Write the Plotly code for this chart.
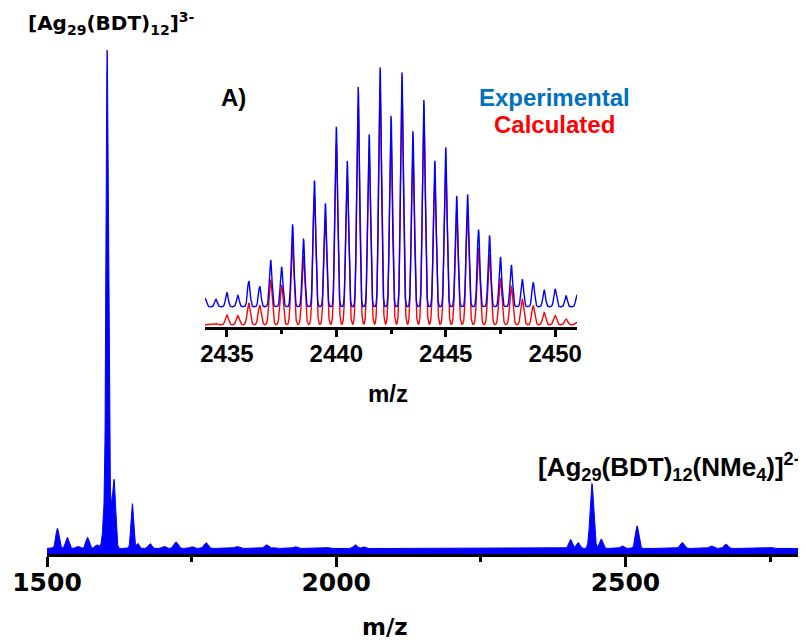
import numpy as np
import plotly.graph_objects as go

# ---------------- data ----------------
# main spectrum: peak centres (m/z), amplitudes above noise floor (% of base peak), widths (m/z)
main_peak_mz = [1518, 1535, 1553, 1570, 1586, 1604, 1604.5, 1616, 1647.5, 1657, 1678, 1702,
                1723, 1750, 1775, 1828, 1879, 1892, 1929, 1984, 2033, 2047, 2183, 2405,
                2418, 2442, 2458, 2494, 2520, 2598, 2648, 2674, 2751]
main_peak_amp = [4.0, 2.2, 0.4, 2.2, 0.7, 79.0, 20.0, 12.9, 8.9, 1.0, 1.0, 0.4,
                 1.3, 0.35, 1.15, 0.4, 0.75, 0.2, 0.35, 0.2, 0.75, 0.35, 0.1, 1.8,
                 1.2, 12.9, 1.9, 0.5, 4.5, 1.2, 0.5, 0.85, 0.2]
main_peak_sigma = [2.8, 3.0, 3.0, 3.0, 3.0, 1.8, 4.5, 2.6, 2.3, 2.5, 3.0, 3.0,
                   3.5, 3.0, 3.5, 3.5, 3.5, 3.0, 3.0, 3.0, 3.5, 3.0, 3.0, 3.0,
                   3.0, 3.2, 3.0, 3.0, 3.0, 3.5, 3.5, 3.5, 3.0]
noise_floor = 1.1
main_range = [1500, 2800]
main_tickvals = [1500, 2000, 2500]

# inset: isotope pattern of [Ag29(BDT)12(NMe4)]2-
inset_mz = [2434.0, 2434.5, 2435.0, 2435.5, 2436.0, 2436.5, 2437.0, 2437.5, 2438.0, 2438.5,
            2439.0, 2439.5, 2440.0, 2440.5, 2441.0, 2441.5, 2442.0, 2442.5, 2443.0, 2443.5,
            2444.0, 2444.5, 2445.0, 2445.5, 2446.0, 2446.5, 2447.0, 2447.5, 2448.0, 2448.5,
            2449.0, 2449.5, 2450.0, 2450.5, 2451.0]
exp_int = [3.5, 3.1, 6.0, 4.7, 10.7, 8.5, 19.5, 16.7, 34.4, 28.5,
           52.7, 43.2, 75.2, 60.9, 91.8, 72.0, 100.0, 79.8, 97.9, 73.3,
           86.4, 61.0, 66.6, 46.3, 46.9, 32.2, 29.8, 20.8, 17.4, 11.4,
           10.2, 7.0, 7.4, 4.5, 5.0]
calc_int = [0.0, 0.5, 4.1, 3.8, 9.1, 8.2, 18.8, 16.6, 34.1, 28.8,
            53.6, 45.0, 76.0, 62.0, 92.0, 73.0, 100.0, 80.0, 98.0, 74.0,
            86.0, 60.6, 66.0, 48.0, 46.7, 32.2, 29.3, 19.5, 16.3, 10.7,
            7.9, 5.1, 3.9, 2.4, 1.0]
exp_offset = 8.36
calc_offset = 0.8
inset_range = [2434, 2451]
inset_tickvals = [2435, 2440, 2445, 2450]

# ---------------- profiles ----------------
mz = np.arange(main_range[0], main_range[1] + 0.001, 0.2)
spec = np.full_like(mz, noise_floor)
for c, a, s in zip(main_peak_mz, main_peak_amp, main_peak_sigma):
    spec += a * np.exp(-0.5 * ((mz - c) / s) ** 2)

imz = np.arange(inset_range[0], inset_range[1] + 0.0001, 0.005)
exp_prof = np.full_like(imz, exp_offset)
calc_prof = np.full_like(imz, calc_offset)
for c, a in zip(inset_mz, exp_int):
    exp_prof += a * np.exp(-0.5 * ((imz - c) / 0.06) ** 2)
for c, a in zip(inset_mz, calc_int):
    calc_prof += a * np.exp(-0.5 * ((imz - c) / 0.07) ** 2)

# ---------------- figure ----------------
# the page body has an 8px margin, so the figure is 8px smaller than the window
OFF = 8
W, H = 806 - OFF, 642 - OFF
L, R, T, B = 47 - OFF, 7, 20 - OFF, 88
PW, PH = W - L - R, H - T - B


def px(x):  # reference pixel -> paper
    return (x - OFF - L) / PW


def py(y):
    return (H - B - (y - OFF)) / PH


fig = go.Figure()
fig.add_trace(go.Scatter(x=mz, y=spec, mode="lines", fill="tozeroy",
                         line=dict(color="#0000FF", width=1), fillcolor="#0000FF",
                         hoverinfo="skip", showlegend=False))
fig.add_trace(go.Scatter(x=imz, y=calc_prof, mode="lines", xaxis="x2", yaxis="y2",
                         line=dict(color="#FF0000", width=1.4), showlegend=False))
fig.add_trace(go.Scatter(x=imz, y=exp_prof, mode="lines", xaxis="x2", yaxis="y2",
                         line=dict(color="#0000FF", width=1.4), showlegend=False))

inset_top = 60
inset_bottom = 326.7
inset_ymax = (inset_bottom - inset_top) / 2.393

fig.update_layout(
    width=W, height=H, margin=dict(l=L, r=R, t=T, b=B, autoexpand=False),
    paper_bgcolor="white", plot_bgcolor="white",
    xaxis=dict(range=main_range, tickvals=main_tickvals, ticks="outside", ticklen=10,
               tickwidth=3, tickcolor="black", showline=True, linewidth=3, linecolor="black",
               showgrid=False, zeroline=False, automargin=False, ticklabelstandoff=-6,
               tickfont=dict(family="DejaVu Sans", size=25, color="black", weight="bold"),
               minor=dict(tickvals=[1750, 2250, 2750], ticks="outside", ticklen=5,
                          tickwidth=3, tickcolor="black")),
    yaxis=dict(range=[0, 100 * PH / 504], visible=False, automargin=False),
    xaxis2=dict(domain=[px(205), px(577)], anchor="y2", range=inset_range,
                tickvals=inset_tickvals, ticks="outside", ticklen=8, tickwidth=2.5,
                tickcolor="black", showline=True, linewidth=2.5, linecolor="black",
                showgrid=False, zeroline=False, automargin=False, ticklabelstandoff=-4,
                tickfont=dict(family="Liberation Sans", size=24, color="black", weight="bold"),
                minor=dict(tickvals=[2437.5, 2442.5, 2447.5], ticks="outside", ticklen=5,
                           tickwidth=2.5, tickcolor="black")),
    yaxis2=dict(domain=[py(inset_bottom), py(inset_top)], anchor="x2",
                range=[0, inset_ymax], visible=False, automargin=False),
)

annots = [
    dict(text="[Ag<sub>29</sub>(BDT)<sub>12</sub>]<sup>3-</sup>", x=px(26), y=py(23),
         xanchor="left", yanchor="middle", family="DejaVu Sans", size=20, color="black"),
    dict(text="[Ag<sub>29</sub>(BDT)<sub>12</sub>(NMe<sub>4</sub>)]<sup>2-</sup>", x=px(536), y=py(467),
         xanchor="left", yanchor="middle", family="Liberation Sans", size=26, color="black"),
    dict(text="A)", x=px(219), y=py(97), xanchor="left", yanchor="middle",
         family="Liberation Sans", size=24, color="black"),
    dict(text="Experimental", x=px(554), y=py(97), xanchor="center", yanchor="middle",
         family="Liberation Sans", size=24, color="#0070C0"),
    dict(text="Calculated", x=px(554), y=py(124), xanchor="center", yanchor="middle",
         family="Liberation Sans", size=24, color="#FF0000"),
    dict(text="m/z", x=px(388), y=py(394), xanchor="center", yanchor="middle",
         family="Liberation Sans", size=24, color="black"),
    dict(text="m/z", x=px(385), y=py(627), xanchor="center", yanchor="middle",
         family="DejaVu Sans", size=23, color="black"),
]
for a in annots:
    fig.add_annotation(text=a["text"], x=a["x"], y=a["y"], xref="paper", yref="paper",
                       xanchor=a["xanchor"], yanchor=a["yanchor"], showarrow=False,
                       font=dict(family=a["family"], size=a["size"], color=a["color"],
                                 weight="bold"))

fig.write_html("out.html")
